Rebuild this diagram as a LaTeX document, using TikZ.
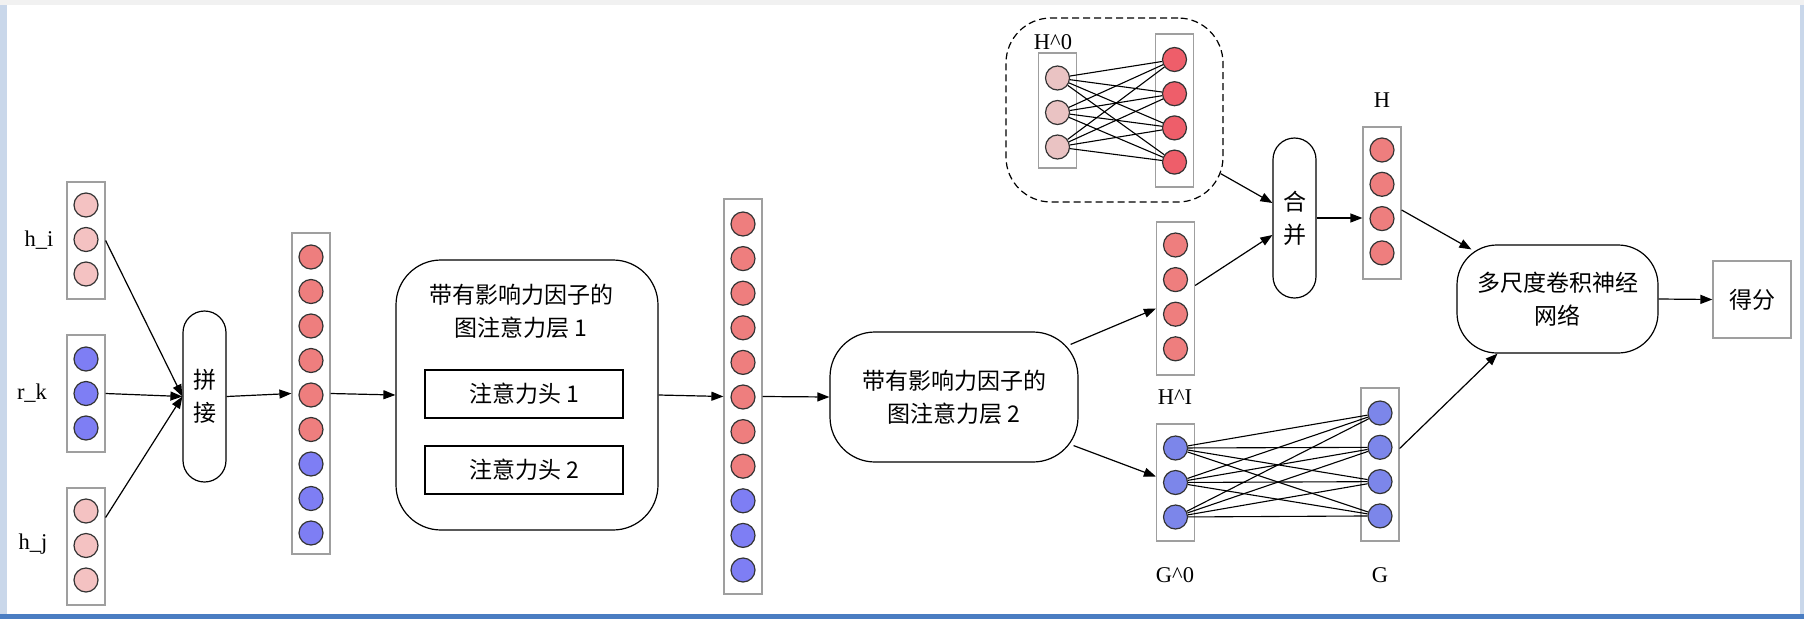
\documentclass[tikz,border=0pt]{standalone}
\usepackage{fontspec}
\setmainfont{Liberation Serif}
\newfontfamily\cjk{Noto Sans CJK SC}
\usetikzlibrary{arrows.meta,calc}
\definecolor{pinkC}{HTML}{F4C2C2}
\definecolor{mutedC}{HTML}{EAC3C3}
\definecolor{redC}{HTML}{EE7E7E}
\definecolor{deepC}{HTML}{EE5E6A}
\definecolor{blueC}{HTML}{7E7EF4}
\definecolor{slateC}{HTML}{7C86EA}
\definecolor{frameC}{HTML}{F1F1F1}
\definecolor{edgeC}{HTML}{4A7DC2}
\definecolor{sideC}{HTML}{C9D7EA}
\begin{document}
\begin{tikzpicture}[x=1pt,y=-1pt,
    vec/.style={draw=gray!75,line width=1.2pt,minimum width=38,inner sep=0pt},
    unit/.style={circle,draw=black!80,line width=1.2pt,minimum size=24,inner sep=0pt},
    cjktxt/.style={align=center,font=\cjk\fontsize{23}{33}\selectfont},
    pill/.style={cjktxt,draw,line width=1.2pt,rounded corners=21.5,minimum width=43,inner sep=0pt},
    layerbox/.style={cjktxt,draw,line width=1.2pt,rounded corners=45,inner sep=0pt},
    headbox/.style={cjktxt,draw,line width=1.2pt,minimum width=198,minimum height=48,inner sep=0pt},
    lab/.style={font=\fontsize{22.5}{26}\selectfont},
    link/.style={line width=1.1pt},
    flow/.style={line width=1.2pt,-{Triangle[length=12pt,width=9pt]}}]
  \useasboundingbox (0,0) rectangle (1804,619);
  \fill[frameC] (0,0) rectangle (1804,619);
  \fill[white] (7,5) rectangle (1800,614);
  \fill[sideC] (0,5) rectangle (7,614);
  \fill[sideC] (1800,5) rectangle (1804,614);
  \fill[edgeC] (0,614) rectangle (1804,619);

  % inputs
  \node[vec,minimum height=117] (vhi) at (86,240.5) {};
  \node[vec,minimum height=117] (vrk) at (86,393.5) {};
  \node[vec,minimum height=117] (vhj) at (86,546.5) {};
  \foreach \i in {1,2,3} {
    \node[unit,fill=pinkC] (hi\i) at (86,{205+34.5*(\i-1)}) {};
    \node[unit,fill=blueC] (rk\i) at (86,{359+34.5*(\i-1)}) {};
    \node[unit,fill=pinkC] (hj\i) at (86,{511+34.5*(\i-1)}) {};
  }
  \node[lab] (lhi) at (39,240) {h\_i};
  \node[lab] (lrk) at (32,393) {r\_k};
  \node[lab] (lhj) at (33,544) {h\_j};

  \node[pill,minimum height=171] (cat) at (204.5,396.5) {拼\\接};

  \node[vec,minimum height=321] (vcat) at (311,393.5) {};
  \foreach \i in {0,...,8} {
    \ifnum\i<6 \def\c{redC}\else \def\c{blueC}\fi
    \node[unit,fill=\c] (cc\i) at (311,{257+34.5*\i}) {};
  }

  % attention layer 1
  \node[layerbox,minimum width=262,minimum height=270] (gat1) at (527,395) {};
  \node[cjktxt] (gat1t) at (521,311) {带有影响力因子的\\图注意力层 1};
  \node[headbox] (head1) at (524,394) {注意力头 1};
  \node[headbox] (head2) at (524,470) {注意力头 2};

  \node[vec,minimum height=395] (vout) at (743,396.5) {};
  \foreach \i in {0,...,10} {
    \ifnum\i<8 \def\c{redC}\else \def\c{blueC}\fi
    \node[unit,fill=\c] (oc\i) at (743,{224+34.6*\i}) {};
  }

  \node[layerbox,minimum width=248,minimum height=130] (gat2) at (954,397) {带有影响力因子的\\图注意力层 2};

  % H^0 block
  \node[draw,line width=1.2pt,dash pattern=on 7pt off 4pt,rounded corners=45,
        minimum width=217,minimum height=184] (hzero) at (1114.5,110) {};
  \node[lab] (lh0) at (1053,42) {H\textasciicircum 0};
  \node[vec,minimum height=115] (vh0a) at (1057.5,110.5) {};
  \node[vec,minimum height=153] (vh0b) at (1174.5,110.5) {};
  \foreach \i in {1,2,3}
    \node[unit,fill=mutedC] (ha\i) at (1057.5,{78+34.5*(\i-1)}) {};
  \foreach \i in {1,...,4}
    \node[unit,fill=deepC] (hb\i) at (1174.5,{59.5+34.2*(\i-1)}) {};
  \foreach \a in {1,2,3}
    \foreach \b in {1,...,4}
      \draw[link] (ha\a) -- (hb\b);

  % H^I
  \node[vec,minimum height=153] (vhI) at (1175.5,298.5) {};
  \foreach \i in {1,...,4}
    \node[unit,fill=redC] (hI\i) at (1175.5,{245+34.6*(\i-1)}) {};
  \node[lab] (lhI) at (1175,397) {H\textasciicircum I};

  % G^0 and G
  \node[vec,minimum height=117] (vg0) at (1175.5,482.5) {};
  \node[vec,minimum height=153] (vg) at (1380,464.5) {};
  \foreach \i in {1,2,3}
    \node[unit,fill=slateC] (ga\i) at (1175.5,{448+34.5*(\i-1)}) {};
  \foreach \i in {1,...,4}
    \node[unit,fill=slateC] (gb\i) at (1380,{413+34.3*(\i-1)}) {};
  \foreach \a in {1,2,3}
    \foreach \b in {1,...,4}
      \draw[link] (ga\a) -- (gb\b);
  \node[lab] (lg0) at (1175,575) {G\textasciicircum 0};
  \node[lab] (lg) at (1380,575) {G};

  \node[pill,minimum height=160] (merge) at (1294.5,218) {合\\并};

  \node[vec,minimum height=152] (vh) at (1382,203) {};
  \foreach \i in {1,...,4}
    \node[unit,fill=redC] (hc\i) at (1382,{150+34.3*(\i-1)}) {};
  \node[lab] (lh) at (1382,100) {H};

  \node[layerbox,rounded corners=40,minimum width=201,minimum height=108] (cnn) at (1557.5,299) {多尺度卷积神经\\网络};
  \node[cjktxt,draw=gray!75,line width=1.2pt,minimum width=78,minimum height=77,inner sep=0pt] (score) at (1752,299.5) {得分};

  % connectors
  \draw[flow] (vhi.east) -- (cat.west);
  \draw[flow] (vrk.east) -- (cat.west);
  \draw[flow] ($(vhj.east)+(0,-29)$) -- (cat.west);
  \draw[flow] (cat.east) -- (vcat.west);
  \draw[flow] (vcat.east) -- (gat1.west);
  \draw[flow] (gat1.east) -- (vout.west);
  \draw[flow] (vout.east) -- (gat2.west);
  \draw[flow] ($(gat2.north east)+(-8,13)$) -- ($(vhI.west)+(0,10)$);
  \draw[flow] ($(gat2.south east)+(-5,-17)$) -- ($(vg0.west)+(0,-6)$);
  \draw[flow] ($(hzero.south east)+(-3,-29)$) -- ($(merge.west)+(0,-15)$);
  \draw[flow] ($(vhI.east)+(0,-13)$) -- ($(merge.west)+(0,17)$);
  \draw[flow] (merge.east) -- (merge.east -| vh.west);
  \draw[flow] ($(vh.east)+(0,7)$) -- ($(cnn.north west)+(15,5)$);
  \draw[flow] ($(vg.east)+(0,-16)$) -- ($(cnn.south)+(-60,0)$);
  \draw[flow] (cnn.east) -- (score.west);
\end{tikzpicture}
\end{document}
